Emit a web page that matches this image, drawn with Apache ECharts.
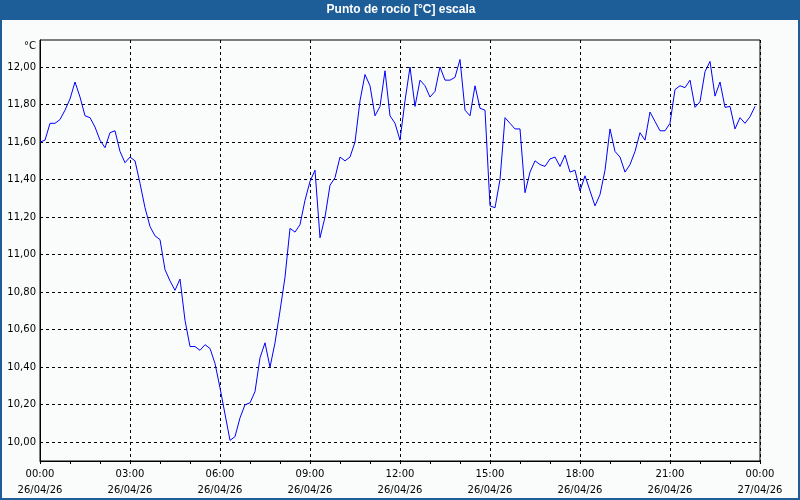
<!DOCTYPE html>
<html>
<head>
<meta charset="utf-8">
<script src="https://cdn.jsdelivr.net/npm/echarts@6/dist/echarts.min.js"></script>
<style>html,body{margin:0;padding:0;background:#fafcfb;}#c{width:800px;height:500px;}</style>
</head>
<body>
<div id="c"></div>
<script>
// Dew point readings every 10 minutes, 26/04/26 00:00 -> 23:50
const dewPoint = [
  11.60, 11.61, 11.70, 11.70, 11.72, 11.77, 11.83, 11.92, 11.84, 11.74, 11.73, 11.68,
  11.61, 11.57, 11.65, 11.66, 11.55, 11.49, 11.52, 11.50, 11.38, 11.25, 11.15, 11.10,
  11.08, 10.92, 10.86, 10.81, 10.87, 10.65, 10.51, 10.51, 10.49, 10.52, 10.50, 10.42,
  10.29, 10.15, 10.01, 10.03, 10.13, 10.20, 10.21, 10.27, 10.45, 10.53, 10.40, 10.53,
  10.70, 10.88, 11.14, 11.12, 11.16, 11.29, 11.39, 11.45, 11.09, 11.20, 11.37, 11.41,
  11.52, 11.50, 11.52, 11.60, 11.82, 11.96, 11.90, 11.74, 11.79, 11.98, 11.74, 11.70,
  11.61, 11.82, 12.00, 11.79, 11.93, 11.90, 11.84, 11.87, 12.00, 11.93, 11.93, 11.945,
  12.04, 11.77, 11.74, 11.90, 11.78, 11.77, 11.26, 11.25, 11.40, 11.73, 11.70, 11.67,
  11.67, 11.33, 11.44, 11.50, 11.48, 11.47, 11.51, 11.52, 11.47, 11.53, 11.44, 11.45,
  11.34, 11.42, 11.34, 11.26, 11.32, 11.45, 11.67, 11.55, 11.52, 11.44, 11.48, 11.55,
  11.65, 11.61, 11.76, 11.71, 11.66, 11.66, 11.70, 11.88, 11.90, 11.89, 11.93, 11.785,
  11.815, 11.975, 12.03, 11.845, 11.92, 11.785, 11.79, 11.67, 11.73, 11.70, 11.735, 11.79
];
// Time categories (10 minute steps, including closing 24:00)
const timeCategories = [];
for (let m = 0; m <= 1440; m += 10) {
  const h = Math.floor(m / 60) % 24, mm = m % 60;
  timeCategories.push((h < 10 ? '0' : '') + h + ':' + (mm < 10 ? '0' : '') + mm);
}
// X tick labels every 3 hours
const xTickLabels = [
  '00:00\n26/04/26', '03:00\n26/04/26', '06:00\n26/04/26', '09:00\n26/04/26',
  '12:00\n26/04/26', '15:00\n26/04/26', '18:00\n26/04/26', '21:00\n26/04/26',
  '00:00\n27/04/26'
];
const chartTitle = 'Punto de rocío [°C] escala';
const unitLabel = '°C';

const font = 'DejaVu Sans';
const chart = echarts.init(document.getElementById('c'), null, {renderer: 'canvas'});
chart.setOption({
  animation: false,
  backgroundColor: '#fafcfb',
  grid: {left: 40, right: 40, top: 40, bottom: 39, show: true, borderColor: '#000', borderWidth: 1, backgroundColor: 'transparent'},
  xAxis: {
    type: 'category',
    data: timeCategories,
    boundaryGap: false,
    axisLine: {lineStyle: {color: '#000', width: 1}},
    axisTick: {show: true, interval: 5, length: 3, lineStyle: {color: '#000'}},
    axisLabel: {
      interval: 17, color: '#000', fontFamily: font, fontSize: 10, lineHeight: 16, margin: 5,
      formatter: function (v, idx) { return xTickLabels[Math.round(idx / 18)]; }
    },
    splitLine: {show: true, interval: 17, lineStyle: {color: '#000', type: [3, 3], width: 1}}
  },
  yAxis: {
    type: 'value',
    min: 9.9,
    max: 12.144,
    splitNumber: 11,
    axisLine: {show: true, lineStyle: {color: '#000'}},
    axisTick: {show: false},
    axisLabel: {
      color: '#000', fontFamily: font, fontSize: 10, margin: 4,
      showMinLabel: false, showMaxLabel: false,
      formatter: function (v) { return v.toFixed(2).replace('.', ','); }
    },
    splitLine: {show: true, showMinLine: false, showMaxLine: false, lineStyle: {color: '#000', type: [3, 3], width: 1}}
  },
  series: [{
    type: 'line',
    data: dewPoint,
    showSymbol: false,
    lineStyle: {color: '#0000ff', width: 1},
    itemStyle: {color: '#0000ff'}
  }],
  graphic: [
    {type: 'rect', shape: {x: 0, y: 0, width: 800, height: 20}, style: {fill: '#1d5e98'}, z: 10},
    {type: 'text', x: 401, y: 10, style: {text: chartTitle, fill: '#fff', font: 'bold 12px "Liberation Sans"', align: 'center', verticalAlign: 'middle'}, z: 11},
    {type: 'rect', shape: {x: 1, y: 1, width: 798, height: 498}, style: {fill: 'none', stroke: '#1d5e98', lineWidth: 2}, z: 12},
    {type: 'text', x: 36, y: 46, style: {text: unitLabel, fill: '#000', font: '10px ' + font, align: 'right', verticalAlign: 'middle'}, z: 11}
  ]
});
</script>
</body>
</html>
